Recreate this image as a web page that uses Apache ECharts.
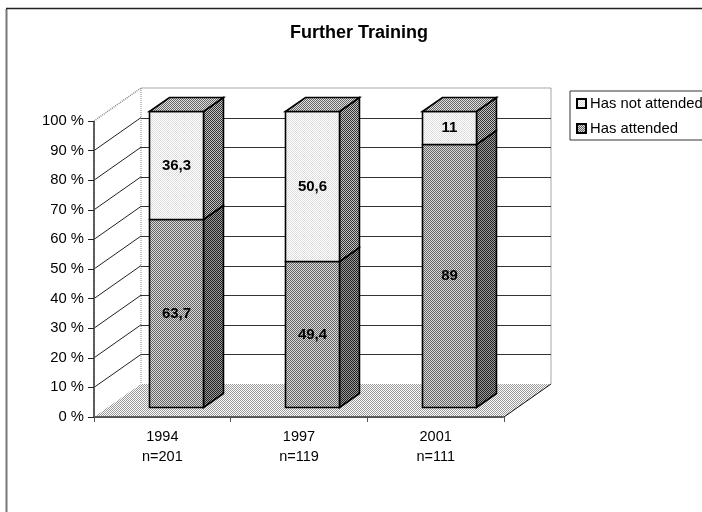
<!DOCTYPE html>
<html>
<head>
<meta charset="utf-8">
<style>html,body{margin:0;padding:0;background:#fff}#c{width:702px;height:512px}</style>
<script src="https://cdn.jsdelivr.net/npm/echarts@6/dist/echarts.min.js"></script>
</head>
<body>
<div id="c"></div>
<script>
var categories = ['1994\nn=201', '1997\nn=119', '2001\nn=111'];
var attended = [63.7, 49.4, 89];
var notAttended = [36.3, 50.6, 11];
var gridTicks = [0, 10, 20, 30, 40, 50, 60, 70, 80, 90, 100];
var titleText = 'Further Training';
var nameNot = 'Has not attended';
var nameHas = 'Has attended';

function pat(a, b) {
  var c = document.createElement('canvas');
  c.width = 2; c.height = 2;
  var x = c.getContext('2d');
  x.fillStyle = a; x.fillRect(0, 0, 2, 2);
  x.fillStyle = b; x.fillRect(0, 0, 1, 1); x.fillRect(1, 1, 1, 1);
  return { image: c, repeat: 'repeat' };
}
var P = {
  floor: pat('#ffffff', '#999999'),
  lowFront: pat('#d8d8d8', '#666666'),
  lowSide: pat('#999999', '#222222'),
  upFront: pat('#ffffff', '#dcdcdc'),
  upSide: pat('#c4c4c4', '#333333'),
  upTop: pat('#e0e0e0', '#666666')
};
var DX = 47, DY = -33;            // full depth of the 3D box
var BF = 0.29, BB = 0.715;        // bar front / back as a fraction of depth
var DOT = '#8a8a8a';

function hy(y) { return Math.round(y) + 0.5; }

function renderWalls(params, api) {
  var o = api.coord([0, 0]), t = api.coord([0, 100]);
  var bw = api.size([1, 0])[0];
  var x0 = o[0] - bw / 2, x1 = x0 + bw * categories.length, y0 = o[1], y1 = t[1];
  return { type: 'group', children: [
    { type: 'polygon', shape: { points: [[x0, y0], [x0 + DX, y0 + DY], [x1 + DX, y0 + DY], [x1, y0]] },
      style: { fill: P.floor, stroke: null } },
    { type: 'line', shape: { x1: x1, y1: y0, x2: x1 + DX, y2: y0 + DY }, style: { stroke: '#111', lineWidth: 1 } },
    { type: 'polyline', shape: { points: [[x0, y1], [x0 + DX, y1 + DY], [x1 + DX, y1 + DY], [x1 + DX, y0 + DY]] },
      style: { fill: null, stroke: DOT, lineWidth: 1.5, lineDash: [1, 1] } },
    { type: 'line', shape: { x1: x0 + DX, y1: y1 + DY, x2: x0 + DX, y2: y0 + DY },
      style: { stroke: DOT, lineWidth: 1, lineDash: [1, 1] } }
  ]};
}

function renderGrid(params, api) {
  var v = api.value(0);
  if (v === 0 || v === 100) return { type: 'group', children: [] };
  var p = api.coord([0, v]);
  var bw = api.size([1, 0])[0];
  var x0 = p[0] - bw / 2, x1 = x0 + bw * categories.length;
  return { type: 'group', children: [
    { type: 'line', shape: { x1: x0, y1: p[1], x2: x0 + DX, y2: p[1] + DY }, style: { stroke: '#222', lineWidth: 1 } },
    { type: 'line', shape: { x1: x0 + DX, y1: hy(p[1] + DY), x2: x1 + DX, y2: hy(p[1] + DY) }, style: { stroke: '#333', lineWidth: 1 } }
  ]};
}

function renderBar(kind) {
  return function (params, api) {
    var i = api.value(0), from = api.value(1), val = api.value(2);
    var a = api.coord([i, from]), b = api.coord([i, from + val]);
    var w = api.size([1, 0])[0] * 0.4;
    var fx = BF * DX, fy = BF * DY, dx = (BB - BF) * DX, dy = (BB - BF) * DY;
    var l = Math.round(a[0] - w / 2 + fx) + 0.5, r = l + Math.floor(w);
    var yb = hy(a[1] + fy), yt = hy(b[1] + fy);
    var ln = { stroke: '#000', lineWidth: 1.6 };
    var kids = [
      { type: 'polygon', shape: { points: [[r, yb], [r + dx, yb + dy], [r + dx, yt + dy], [r, yt]] },
        style: Object.assign({ fill: kind === 'up' ? P.upSide : P.lowSide }, ln) },
      { type: 'rect', shape: { x: l, y: yt, width: r - l, height: yb - yt },
        style: Object.assign({ fill: kind === 'up' ? P.upFront : P.lowFront }, ln) }
    ];
    if (kind === 'up') {
      kids.push({ type: 'polygon', shape: { points: [[l, yt], [l + dx, yt + dy], [r + dx, yt + dy], [r, yt]] },
        style: Object.assign({ fill: P.upTop }, ln) });
    }
    kids.push({ type: 'text', x: (l + r) / 2, y: (yt + yb) / 2,
      style: { text: String(val).replace('.', ','), fill: '#000', align: 'center', verticalAlign: 'middle',
        font: 'bold 15px "Liberation Sans", Arial, sans-serif' } });
    return { type: 'group', children: kids };
  };
}

function rows(vals, bases) {
  return vals.map(function (v, i) { return [i, bases ? bases[i] : 0, v]; });
}

var chart = echarts.init(document.getElementById('c'), null, { renderer: 'canvas' });
chart.setOption({
  animation: false,
  backgroundColor: '#fff',
  title: { text: titleText, left: 354, top: 19, textAlign: 'center',
    textStyle: { fontFamily: '"Liberation Sans", Arial, sans-serif', fontSize: 18, fontWeight: 'bold', color: '#000' } },
  legend: {
    orient: 'vertical', left: 570, top: 91, padding: [5, 6, 4, 6], itemGap: 10,
    backgroundColor: '#fff', borderColor: '#333', borderWidth: 1, borderRadius: 0,
    itemWidth: 9, itemHeight: 9, icon: 'rect',
    textStyle: { fontFamily: '"Liberation Sans", Arial, sans-serif', fontSize: 14.8, color: '#000', padding: [0, 0, 0, -1] },
    data: [
      { name: nameNot, itemStyle: { color: P.upFront, borderColor: '#000', borderWidth: 2 } },
      { name: nameHas, itemStyle: { color: P.lowFront, borderColor: '#000', borderWidth: 2 } }
    ]
  },
  grid: { left: 94, top: 121, width: 410, height: 296, containLabel: false },
  xAxis: {
    type: 'category', data: categories, boundaryGap: true,
    axisLine: { lineStyle: { color: '#555', width: 2, type: [1, 1] } },
    axisTick: { show: true, alignWithLabel: false, length: 5, lineStyle: { color: '#555', width: 1 } },
    axisLabel: { color: '#000', fontSize: 14.5, lineHeight: 20, margin: 10,
      fontFamily: '"Liberation Sans", Arial, sans-serif' },
    z: 5
  },
  yAxis: {
    type: 'value', min: 0, max: 100, interval: 10,
    axisLine: { show: true, lineStyle: { color: '#555', width: 2, type: [1, 1] } },
    axisTick: { show: true, length: 6, lineStyle: { color: '#222', width: 1 } },
    splitLine: { show: false },
    axisLabel: { color: '#000', fontSize: 14.8, margin: 10, formatter: '{value} %',
      fontFamily: '"Liberation Sans", Arial, sans-serif' },
    z: 5
  },
  series: [
    { type: 'custom', name: 'walls', silent: true, renderItem: renderWalls, data: [[0]], encode: { y: 0 }, z: 1 },
    { type: 'custom', name: 'grid', silent: true, renderItem: renderGrid, data: gridTicks.map(function (t) { return [t]; }), encode: { y: 0 }, z: 2 },
    { type: 'custom', name: nameHas, renderItem: renderBar('low'), data: rows(attended), encode: { x: 0, y: [1, 2] }, itemStyle: { color: P.lowFront }, z: 3 },
    { type: 'custom', name: nameNot, renderItem: renderBar('up'), data: rows(notAttended, attended), encode: { x: 0, y: [1, 2] }, itemStyle: { color: P.upFront }, z: 3 }
  ],
  graphic: [
    { type: 'line', silent: true, shape: { x1: 6.5, y1: 9, x2: 6.5, y2: 512 }, style: { stroke: '#777', lineWidth: 2 } },
    { type: 'line', silent: true, shape: { x1: 6, y1: 8.5, x2: 702, y2: 8.5 }, style: { stroke: '#222', lineWidth: 1.5 } }
  ]
});
</script>
</body>
</html>
